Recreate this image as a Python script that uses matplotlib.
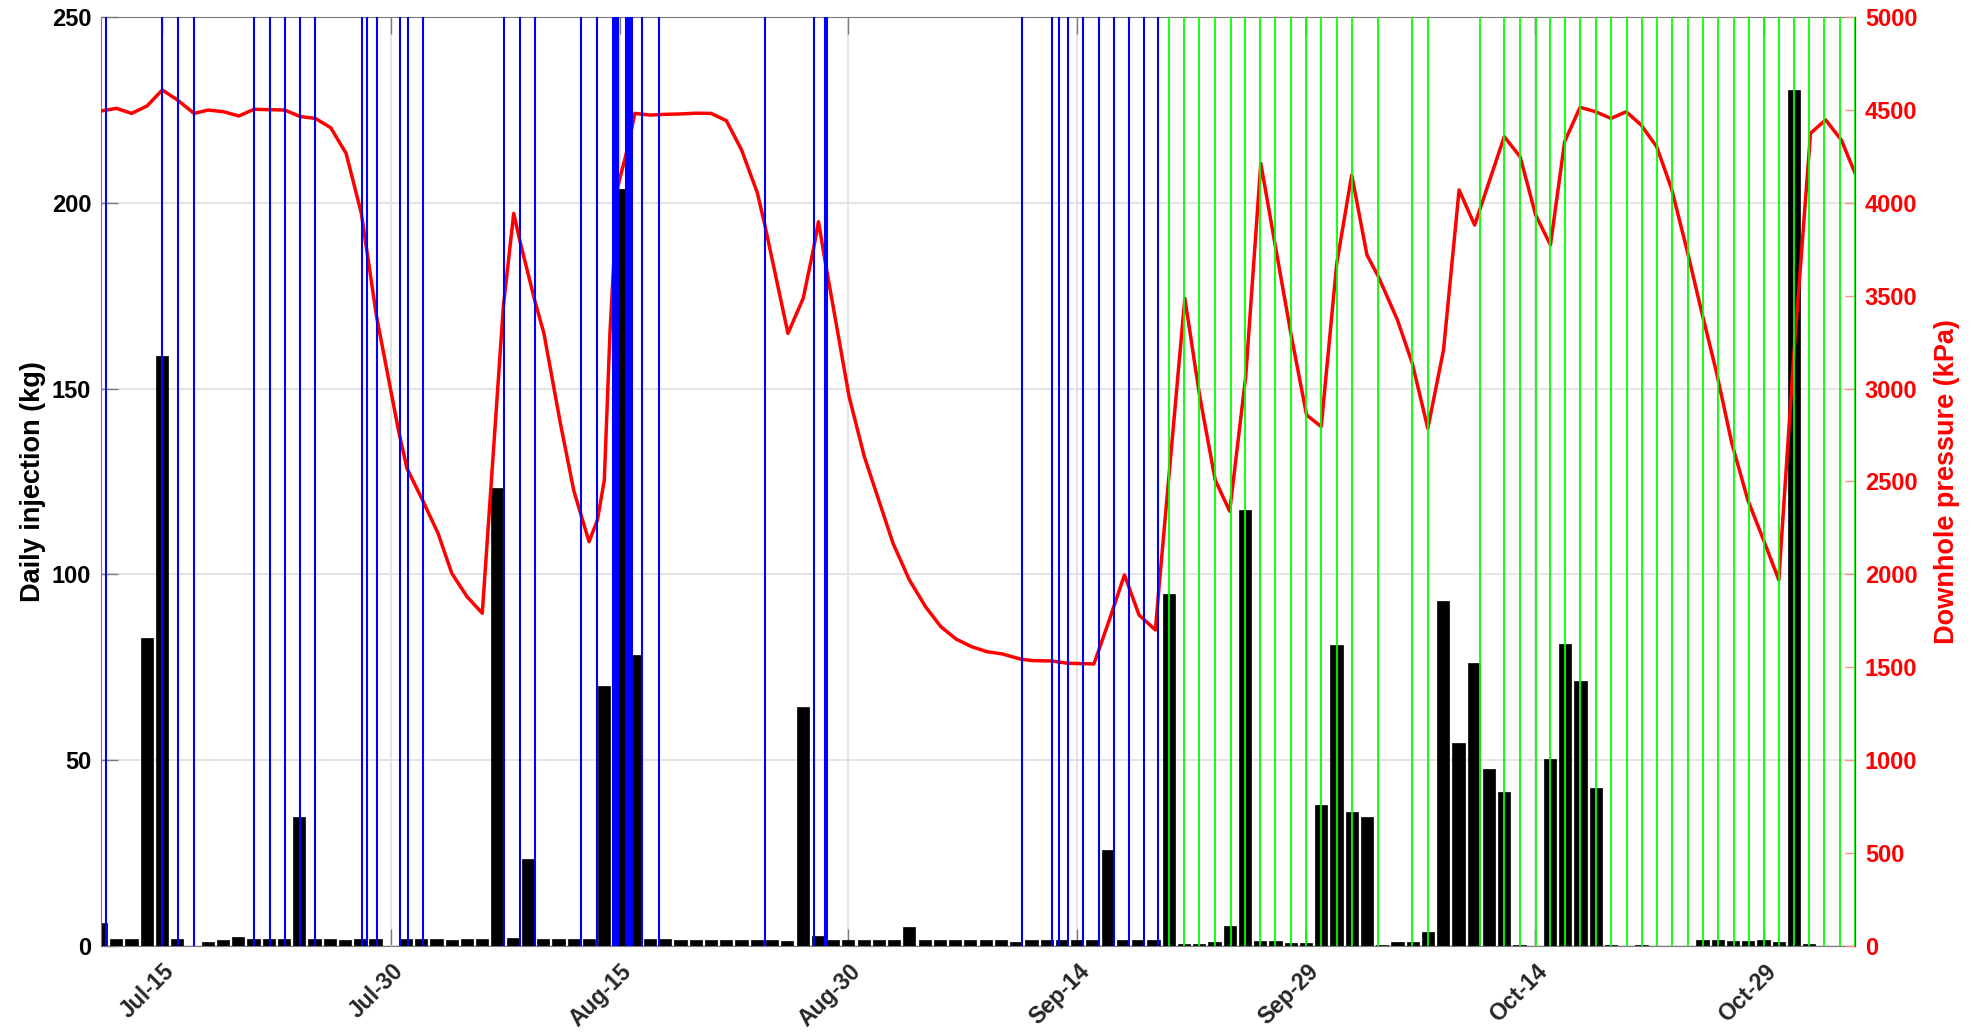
import numpy as np
import matplotlib
matplotlib.use("Agg")
import matplotlib.pyplot as plt
from matplotlib.transforms import ScaledTranslation

# day index 0 = first bar on the chart, one bar per day
injection_kg = [
    6.3, 2.0, 2.0, 83.0, 158.7, 2.0, 0.0, 1.0, 1.5, 2.5,
    2.0, 2.0, 2.0, 34.6, 1.9, 1.9, 1.6, 1.8, 2.0, 0.0,
    1.8, 1.8, 1.8, 1.7, 1.8, 1.8, 123.3, 2.1, 23.4, 1.8,
    1.8, 1.8, 1.8, 70.0, 203.6, 78.4, 2.0, 1.8, 1.6, 1.6,
    1.7, 1.6, 1.6, 1.6, 1.6, 1.4, 64.4, 2.6, 1.7, 1.7,
    1.7, 1.7, 1.7, 5.1, 1.7, 1.7, 1.7, 1.7, 1.7, 1.6,
    1.0, 1.5, 1.5, 1.5, 1.5, 1.5, 25.8, 1.5, 1.5, 1.5,
    94.6, 0.5, 0.6, 1.0, 5.5, 117.2, 1.4, 1.4, 0.9, 0.9,
    37.9, 81.0, 36.1, 34.7, 0.3, 1.2, 1.2, 3.7, 92.8, 54.5,
    76.1, 47.5, 41.5, 0.3, 0.0, 50.3, 81.3, 71.2, 42.6, 0.3,
    0.0, 0.3, 0.0, 0.0, 0.0, 1.5, 1.5, 1.3, 1.3, 1.5,
    1.2, 230.4, 0.5, 0.0, 0.0,
]

tick_days = [4, 19, 34, 49, 64, 79, 94, 109]
tick_labels = ["Jul-15", "Jul-30", "Aug-15", "Aug-30", "Sep-14", "Sep-29", "Oct-14", "Oct-29"]

blue_events = [
    0.3, 4.02, 5.03, 6.1, 10.05, 11.06, 12.08, 13.08, 14.05, 17.1,
    17.45, 18.1, 19.6, 20.15, 21.1, 26.4, 27.45, 28.43, 31.48, 32.55,
    33.55, 33.65, 33.75, 33.85, 33.92, 34.45, 34.55, 34.65, 34.75, 34.82,
    35.5, 36.6, 43.53, 46.72, 47.45, 47.58, 60.38, 62.34, 62.78, 63.37,
    64.39, 65.4, 66.4, 67.37, 68.36, 69.33,
]

green_events = [
    70.02, 71.0, 72.02, 73.03, 74.06, 75.03, 76.02, 77.0, 78.04, 79.03,
    80.0, 81.02, 82.01, 83.75, 85.97, 87.0, 90.42, 92.0, 93.01, 94.06,
    94.98, 95.96, 96.99, 98.02, 99.03, 100.03, 101.04, 102.03, 103.02, 104.05,
    105.04, 106.03, 107.05, 108.04, 109.0, 110.0, 110.97, 111.98, 112.99, 114.02,
    114.97,
]

pressure_days = [
    0, 1.01, 2.01, 3.02, 4.02, 5.02, 6.1, 7.03, 8.03, 9.04,
    10.04, 11.05, 12.05, 13.06, 14.06, 15.06, 16.07, 17.07, 18.07, 19.5,
    20.06, 21.08, 22.1, 23.0, 24.0, 25.0, 26.38, 27.06, 27.45, 28.43,
    29.04, 30.12, 31.0, 32.0, 32.55, 33.0, 33.37, 33.88, 34.5, 35.0,
    36.0, 37.0, 38.0, 39.0, 40.0, 41.0, 42.0, 43.03, 43.5, 45.04,
    46.04, 46.7, 47.04, 47.5, 49.05, 50.05, 51.93, 53.0, 54.06, 55.07,
    56.08, 57.08, 58.08, 59.09, 60.34, 61.1, 62.35, 63.35, 65.1, 66.11,
    67.1, 68.06, 69.13, 69.37, 71.06, 72.02, 73.05, 74.0, 75.05, 76.04,
    77.0, 78.05, 79.04, 80.0, 81.02, 82.0, 83.0, 83.75, 85.0, 85.97,
    86.99, 88.02, 89.04, 90.06, 92.0, 93.04, 94.06, 95.03, 95.96, 96.97,
    97.99, 99.0, 100.0, 100.97, 101.99, 102.96, 103.98, 104.94, 105.93, 106.92,
    107.97, 109.0, 110.0, 111.0, 112.08, 113.07, 114.1, 115.0,
]
pressure_kpa = [
    4494, 4508, 4481, 4521, 4607, 4553, 4481, 4499, 4490, 4467,
    4503, 4501, 4499, 4464, 4454, 4404, 4266, 3943, 3387, 2777,
    2571, 2400, 2221, 2006, 1880, 1791, 3441, 3943, 3800, 3477,
    3297, 2813, 2450, 2176, 2293, 2508, 3299, 4087, 4284, 4481,
    4472, 4476, 4478, 4482, 4481, 4442, 4284, 4054, 3889, 3297,
    3486, 3746, 3898, 3674, 2956, 2633, 2167, 1970, 1826, 1718,
    1651, 1611, 1584, 1572, 1543, 1536, 1534, 1522, 1518, 1755,
    1997, 1781, 1701, 1934, 3486, 2966, 2508, 2340, 3064, 4212,
    3764, 3279, 2858, 2795, 3674, 4150, 3719, 3602, 3369, 3136,
    2786, 3208, 4069, 3880, 4356, 4248, 3934, 3773, 4329, 4514,
    4490, 4454, 4490, 4419, 4302, 4078, 3746, 3414, 3082, 2706,
    2400, 2185, 1970, 3200, 4374, 4446, 4338, 4159,
]

plt.rcParams["font.family"] = ["Liberation Sans", "DejaVu Sans"]
plt.rcParams["font.weight"] = "bold"
plt.rcParams["axes.labelweight"] = "bold"

fig = plt.figure(figsize=(19.72, 10.34), dpi=100)
ax = fig.add_axes([0.0512, 0.0851, 0.8895, 0.8985])

days = np.arange(len(injection_kg))
ax.bar(days, injection_kg, width=0.8, color="black", edgecolor="black",
       linewidth=0.5, zorder=2)
ax.set_xlim(0, 115)
ax.set_ylim(0, 250)
ax.set_yticks(np.arange(0, 251, 50))
ax.set_xticks(tick_days)
ax.set_xticklabels(tick_labels, rotation=45, ha="right")
ax.grid(True, color="#e2e2e2", linewidth=1.3)
ax.set_axisbelow(True)
ax.tick_params(axis="x", direction="in", length=12, width=1, color="#7a7a7a",
               top=True, pad=10, labelsize=16.5, labelcolor="#262626")
ax.tick_params(axis="y", direction="in", length=12, width=1, color="#7a7a7a",
               pad=7, labelsize=17, labelcolor="black")
for lab in ax.get_xticklabels():
    lab.set_transform(lab.get_transform() + ScaledTranslation(0.17, 0, fig.dpi_scale_trans))
for side in ("left", "bottom", "top"):
    ax.spines[side].set_color("#7a7a7a")
ax.set_ylabel("Daily injection (kg)", fontsize=19.5)
ax.yaxis.set_label_coords(-0.0314, 0.5)

ax2 = ax.twinx()
ax2.plot(pressure_days, pressure_kpa, color="red", linewidth=2.5, zorder=3)
ax2.set_ylim(0, 5000)
ax2.set_yticks(np.arange(0, 5001, 500))
ax2.tick_params(axis="y", direction="in", length=7, width=1, color="#ff8c8c",
                pad=7, labelsize=17, labelcolor="red")
ax2.spines["right"].set_color("red")
for side in ("left", "bottom", "top"):
    ax2.spines[side].set_visible(False)

for x in blue_events:
    ax2.axvline(x, color="blue", linewidth=1.5, zorder=4)
for x in green_events:
    ax2.axvline(x, color="#00ff00", linewidth=1.3, zorder=4)

ax2.set_ylabel("Downhole pressure (kPa)", color="red", fontsize=19.5)
ax2.yaxis.set_label_coords(1.045, 0.5)

fig.savefig("out.png", dpi=100)
